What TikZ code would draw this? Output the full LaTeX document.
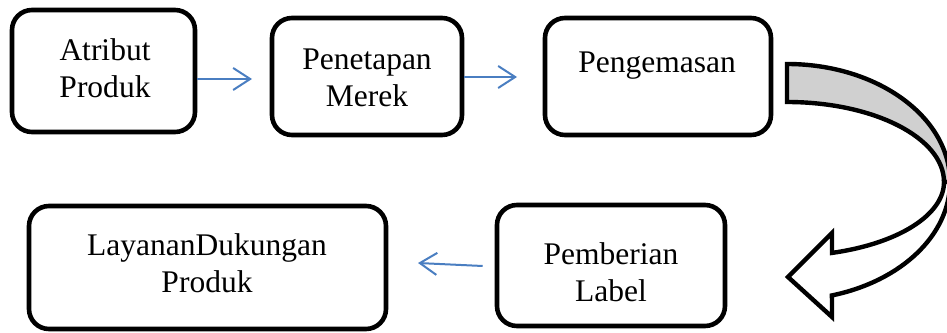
\documentclass[tikz,border=0pt]{standalone}
\usepackage{fontspec}
\setmainfont{Liberation Serif}
\usetikzlibrary{arrows.meta}
\definecolor{flowblue}{RGB}{74,126,193}
\definecolor{bandgray}{RGB}{208,208,208}
\begin{document}
\begin{tikzpicture}[x=1pt,y=1pt,
  box/.style={draw, line width=4.6pt, rounded corners=20pt, inner sep=0pt},
  lbl/.style={align=center, font=\fontsize{31.5}{37}\selectfont, inner sep=0pt},
  flow/.style={draw=flowblue, line width=2pt, -{Straight Barb[length=17pt,width=22pt]}},
  band/.style={draw, line width=4.4pt, line join=miter}]
\useasboundingbox (0,0) rectangle (947,332);

% process boxes
\node[box, minimum width=183pt, minimum height=122pt] (b1) at (103.5,261) {};
\node[box, minimum width=190pt, minimum height=117pt] (b2) at (367,255.5) {};
\node[box, minimum width=226pt, minimum height=117pt] (b3) at (658,255.5) {};
\node[box, minimum width=357pt, minimum height=123pt] (b4) at (207.5,64.5) {};
\node[box, minimum width=228pt, minimum height=121pt] (b5) at (611,66.5) {};

% box captions
\node[lbl] (t1) at (105,264) {Atribut\\Produk};
\node[lbl] (t2) at (367,254) {Penetapan\\Merek};
\node[lbl] (t3) at (657,266) {Pengemasan};
\node[lbl] (t4) at (207,69.25) {LayananDukungan\\Produk};
\node[lbl] (t5) at (611,60.25) {Pemberian\\Label};

% thin connectors
\coordinate (a1e) at (252,253);
\coordinate (a2e) at (517,255);
\coordinate (a3e) at (418,69);
\draw[flow] (b1.east |- a1e) -- (a1e);
\draw[flow] (b2.east |- a2e) -- (a2e);
\draw[flow] ([shift={(-12,-0.5)}]b5.west) -- (a3e);

% curved block arrow: shaded back band
\filldraw[band, fill=bandgray]
  (787,268) arc[start angle=90, end angle=0, x radius=163pt, y radius=118pt]
  -- (944,150)
  arc[start angle=0, end angle=90, x radius=157pt, y radius=80pt]
  -- cycle;
% curved block arrow: front band with head
\filldraw[band, fill=white]
  (832,79.1) arc[start angle=-73.35, end angle=0, x radius=157pt, y radius=74pt]
  -- (950,150)
  arc[start angle=0, end angle=-74.0, x radius=163pt, y radius=118pt]
  -- (832,15) -- (788,55) -- (832,99) -- cycle;
\end{tikzpicture}
\end{document}
